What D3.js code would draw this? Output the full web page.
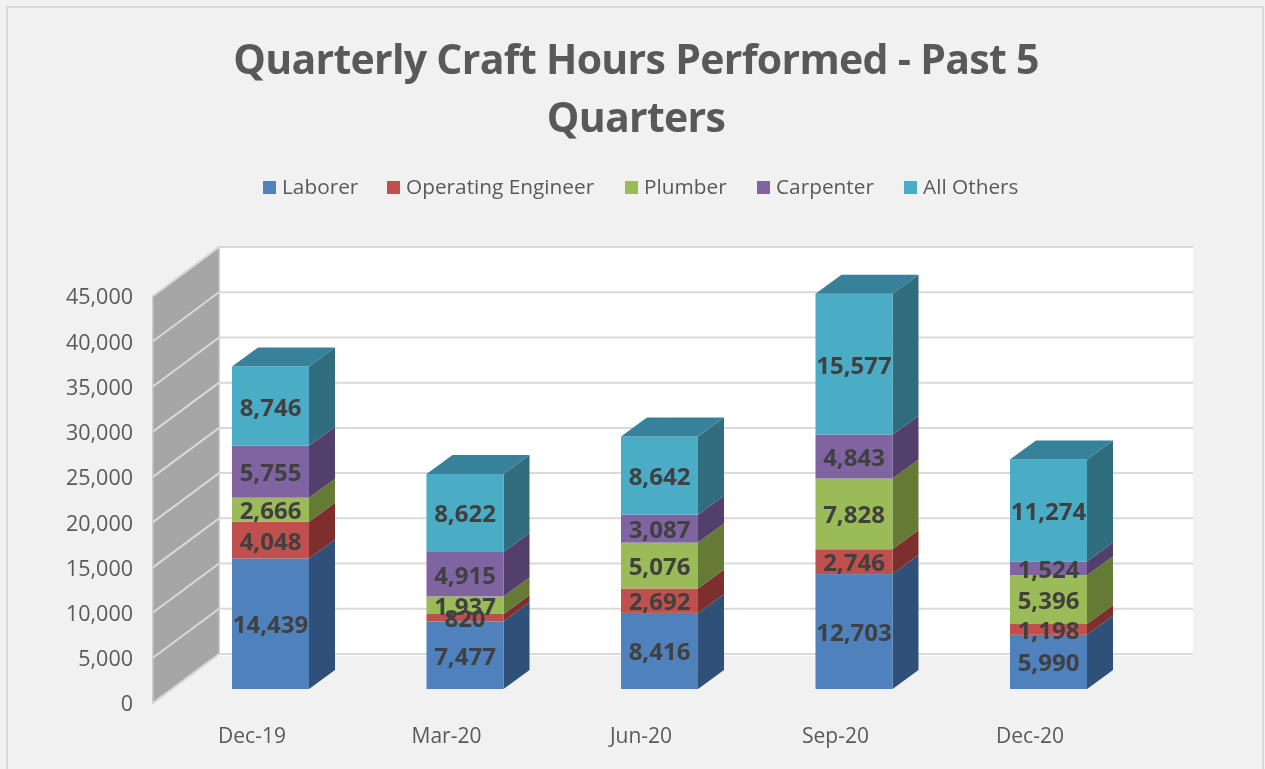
<!DOCTYPE html>
<html><head><meta charset="utf-8">
<script src="https://cdn.jsdelivr.net/npm/d3@7/dist/d3.min.js"></script>
<style>
html,body{margin:0;padding:0;background:#f1f1f1;overflow:hidden}
text{font-family:"Open Sans",sans-serif}
svg{filter:blur(0.4px)}
</style></head><body>
<svg id="c" width="1265" height="769"></svg>
<script>
const categories = ["Dec-19","Mar-20","Jun-20","Sep-20","Dec-20"];
const seriesNames = ["Laborer","Operating Engineer","Plumber","Carpenter","All Others"];
const laborer = [14439,7477,8416,12703,5990];
const operatingEngineer = [4048,820,2692,2746,1198];
const plumber = [2666,1937,5076,7828,5396];
const carpenter = [5755,4915,3087,4843,1524];
const allOthers = [8746,8622,8642,15577,11274];
const yTicks = [0,5000,10000,15000,20000,25000,30000,35000,40000,45000];
const faceColors = ["#4f81bd","#c0504d","#9bbb59","#8064a2","#4bacc6"];
const sideColors = ["#2f5078","#7d2f2d","#647a35","#523f6c","#2f6d7f"];
const topColor = "#37819b";
const legendX = [263,387,625,757,904];

const svg = d3.select("#c");
const seriesValues = [laborer,operatingEngineer,plumber,carpenter,allOthers];
const rows = categories.map((c,i)=>{const r={cat:c};seriesNames.forEach((s,j)=>r[s]=seriesValues[j][i]);return r;});
const stacked = d3.stack().keys(seriesNames)(rows);

const DX=26, DY=19;           // bar depth offset
const WX=66, WY=49;           // wall depth offset
const x = d3.scaleBand().domain(categories).range([173.25,1145.75]).paddingInner(0.604).paddingOuter(0.302);
const h = d3.scaleLinear().domain([0,45000]).range([0,407]);
const base = 689, wallFront = 703;
const yWall = d3.scaleLinear().domain([0,45000]).range([wallFront,wallFront-407]);

// frame
svg.append("rect").attr("x",7).attr("y",7).attr("width",1256).attr("height",780)
  .attr("fill","#f1f1f1").attr("stroke","#d9d9d9").attr("stroke-width",2);

// title
svg.append("g").selectAll("text").data(["Quarterly Craft Hours Performed - Past 5","Quarters"]).join("text")
  .attr("x",636).attr("y",(d,i)=>74+i*58).attr("text-anchor","middle")
  .attr("font-size",41).attr("font-weight",700).attr("letter-spacing",-0.7).attr("fill","#595959").text(d=>d);

// legend
const lg = svg.append("g").selectAll("g").data(seriesNames).join("g")
  .attr("transform",(d,i)=>`translate(${legendX[i]},0)`);
lg.append("rect").attr("y",181).attr("width",13).attr("height",13).attr("fill",(d,i)=>faceColors[i]);
lg.append("text").attr("x",19).attr("y",194).attr("font-size",20.8).attr("fill","#595959").text(d=>d);

// walls
svg.append("rect").attr("x",153+WX).attr("y",wallFront-407-WY).attr("width",974).attr("height",407+2)
  .attr("fill","#ffffff");
svg.append("path").attr("d",`M153,${yWall(45000)}L${153+WX},${yWall(45000)-WY}L${153+WX},${yWall(0)-WY}L153,${yWall(0)}Z`)
  .attr("fill","#a6a6a6").attr("stroke","#bfbfbf").attr("stroke-width",1.5);
const grid = svg.append("g").selectAll("g").data(yTicks).join("g");
grid.append("line").attr("x1",153).attr("x2",153+WX).attr("y1",d=>yWall(d)).attr("y2",d=>yWall(d)-WY)
  .attr("stroke","#d9d9d9").attr("stroke-width",2);
grid.append("line").attr("x1",153+WX).attr("x2",1193).attr("y1",d=>yWall(d)-WY).attr("y2",d=>yWall(d)-WY)
  .attr("stroke","#d9d9d9").attr("stroke-width",2);

// y axis
const ax = svg.append("g").attr("transform","translate(133,1)")
  .call(d3.axisLeft(yWall).tickValues(yTicks).tickSize(0).tickPadding(0).tickFormat(d3.format(",")));
ax.select(".domain").remove();
ax.selectAll("text").attr("font-size",21.5).attr("fill","#595959").style("font-family",'"Open Sans",sans-serif');

// category labels
svg.append("g").selectAll("text").data(categories).join("text")
  .attr("x",d=>x(d)+x.bandwidth()/2-18.5).attr("y",743).attr("text-anchor","middle")
  .attr("font-size",21).attr("fill","#595959").text(d=>d);

// bars
const bars = svg.append("g");
categories.forEach((c,i)=>{
  const g = bars.append("g");
  const bx = x(c), bw = x.bandwidth();
  stacked.forEach((s,j)=>{
    const y0 = base-h(s[i][0]), y1 = base-h(s[i][1]);
    g.append("path").attr("d",`M${bx+bw},${y0}L${bx+bw+DX},${y0-DY}L${bx+bw+DX},${y1-DY}L${bx+bw},${y1}Z`).attr("fill",sideColors[j]);
    g.append("rect").attr("x",bx).attr("y",y1).attr("width",bw).attr("height",y0-y1).attr("fill",faceColors[j]);
    if(j===stacked.length-1){
      g.append("path").attr("d",`M${bx},${y1}L${bx+DX},${y1-DY}L${bx+bw+DX},${y1-DY}L${bx+bw},${y1}Z`).attr("fill",topColor);
    }
  });
});
// value labels
const fmt = d3.format(",");
stacked.forEach((s,j)=>{
  svg.append("g").selectAll("text").data(s).join("text")
    .attr("x",d=>x(d.data.cat)+x.bandwidth()/2)
    .attr("y",d=>base-h((d[0]+d[1])/2)+9.5)
    .attr("text-anchor","middle").attr("font-size",24).attr("font-weight",700).attr("fill","#404040")
    .text(d=>fmt(d[1]-d[0]));
});
</script></body></html>
